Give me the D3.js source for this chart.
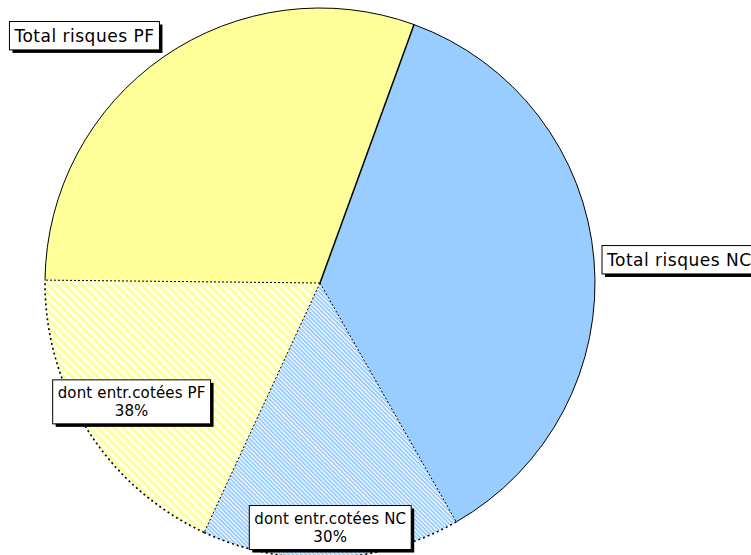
<!DOCTYPE html>
<html>
<head>
<meta charset="utf-8">
<script src="https://cdn.jsdelivr.net/npm/d3@7"></script>
<style>
  body { margin: 0; background: #fff; }
  text { font-family: "DejaVu Sans", sans-serif; fill: #000; }
</style>
</head>
<body>
<div class="chart"></div>
<script>
// slice data, clockwise from the top-right boundary
var categories = ["Total risques NC", "dont entr.cotées NC", "dont entr.cotées PF", "Total risques PF"];
var values = [130.3, 54.6, 65.7, 109.4];
var hatched = [false, true, true, false];
var fills = ["#99CCFF", "url(#hatchBlue)", "url(#hatchYellow)", "#FFFF99"];
var pctLabels = ["", "30%", "38%", ""];

var svgWidth = 751;
var svgHeight = 555;
var cx = 320, cy = 283, radius = 275;
var startDeg = 20;

var svg = d3.select(".chart")
  .append("svg")
  .attr("width", svgWidth)
  .attr("height", svgHeight);

// hatch patterns
var defs = svg.append("defs");
var pY = defs.append("pattern")
  .attr("id", "hatchYellow")
  .attr("patternUnits", "userSpaceOnUse")
  .attr("width", 6).attr("height", 6)
  .attr("patternTransform", "rotate(-45)");
pY.append("rect").attr("width", 6).attr("height", 6).attr("fill", "#FFFF99");
pY.append("rect").attr("width", 2.6).attr("height", 6).attr("fill", "#fff");

var pB = defs.append("pattern")
  .attr("id", "hatchBlue")
  .attr("patternUnits", "userSpaceOnUse")
  .attr("width", 3).attr("height", 3)
  .attr("patternTransform", "rotate(-45)");
pB.append("rect").attr("width", 3).attr("height", 3).attr("fill", "#99CCFF");
pB.append("rect").attr("width", 1.1).attr("height", 3).attr("fill", "#fff");

var a0 = startDeg * Math.PI / 180;
var pie = d3.pie().sort(null).startAngle(a0).endAngle(a0 + 2 * Math.PI);
var arcs = pie(values);

var arc = d3.arc().innerRadius(0).outerRadius(radius);

var g = svg.append("g").attr("transform", `translate(${cx}, ${cy})`);

g.selectAll("path.slice")
  .data(arcs)
  .enter()
  .append("path")
  .attr("class", "slice")
  .attr("d", arc)
  .attr("fill", (d, i) => fills[i])
  .attr("stroke", "none");

// outlines: solid for the totals, dotted for the hatched slices
function pt(a, r) { return [r * Math.sin(a), -r * Math.cos(a)]; }

arcs.forEach(function(d, i) {
  var p = d3.path();
  p.arc(0, 0, radius, d.startAngle - Math.PI / 2, d.endAngle - Math.PI / 2);
  g.append("path")
    .attr("d", p.toString())
    .attr("fill", "none")
    .attr("stroke", "#000")
    .attr("stroke-width", hatched[i] ? 1.6 : 1)
    .attr("stroke-dasharray", hatched[i] ? "2,3" : null);
});

arcs.forEach(function(d, i) {
  var solid = !hatched[i] && !hatched[(i + arcs.length - 1) % arcs.length];
  var e = pt(d.startAngle, radius);
  g.append("line")
    .attr("x1", 0).attr("y1", 0)
    .attr("x2", e[0]).attr("y2", e[1])
    .attr("stroke", "#000")
    .attr("stroke-width", solid ? 1.5 : 1)
    .attr("stroke-dasharray", solid ? null : "2,2");
});

// labels with shadowed boxes
function addLabel(lines, fontSize, spacing) {
  var lg = svg.append("g");
  var shadow = lg.append("rect").attr("fill", "#000");
  var box = lg.append("rect").attr("fill", "#fff").attr("stroke", "#000").attr("stroke-width", 1);
  var t = lg.append("text")
    .attr("text-anchor", "middle")
    .style("font-size", fontSize + "px")
    .style("letter-spacing", spacing + "px");
  var lh = fontSize * 1.2;
  lines.forEach(function(s, k) {
    t.append("tspan").attr("x", 0).attr("y", k * lh).text(s);
  });
  var w = 0;
  t.selectAll("tspan").each(function() { w = Math.max(w, this.getComputedTextLength()); });
  var bw = w + 10, bh = lines.length * lh + 8;
  return { g: lg, w: bw, h: bh, place: function(x, y) {
    // x, y = top-left of box
    box.attr("x", x).attr("y", y).attr("width", bw).attr("height", bh);
    shadow.attr("x", x + 3).attr("y", y + 3).attr("width", bw).attr("height", bh);
    t.attr("transform", `translate(${x + bw / 2}, ${y + fontSize + 3})`);
  }};
}

var labelRadius = [0, 0.89, 0.81, 0];

arcs.forEach(function(d, i) {
  var mid = (d.startAngle + d.endAngle) / 2;
  if (!hatched[i]) {
    var L = addLabel([categories[i]], 17, 0.5);
    var o = pt(mid, radius);
    var ox = cx + o[0], oy = cy + o[1];
    if (Math.sin(mid) > 0) {
      L.place(ox + 8, oy - L.h / 2);
    } else {
      L.place(ox - 4 - L.w, oy - 7 - L.h);
    }
  } else {
    var L2 = addLabel([categories[i], pctLabels[i]], 15, 0.15);
    var c = pt(mid, radius * labelRadius[i]);
    L2.place(cx + c[0] - L2.w / 2, cy + c[1] - L2.h / 2);
  }
});
</script>
</body>
</html>
